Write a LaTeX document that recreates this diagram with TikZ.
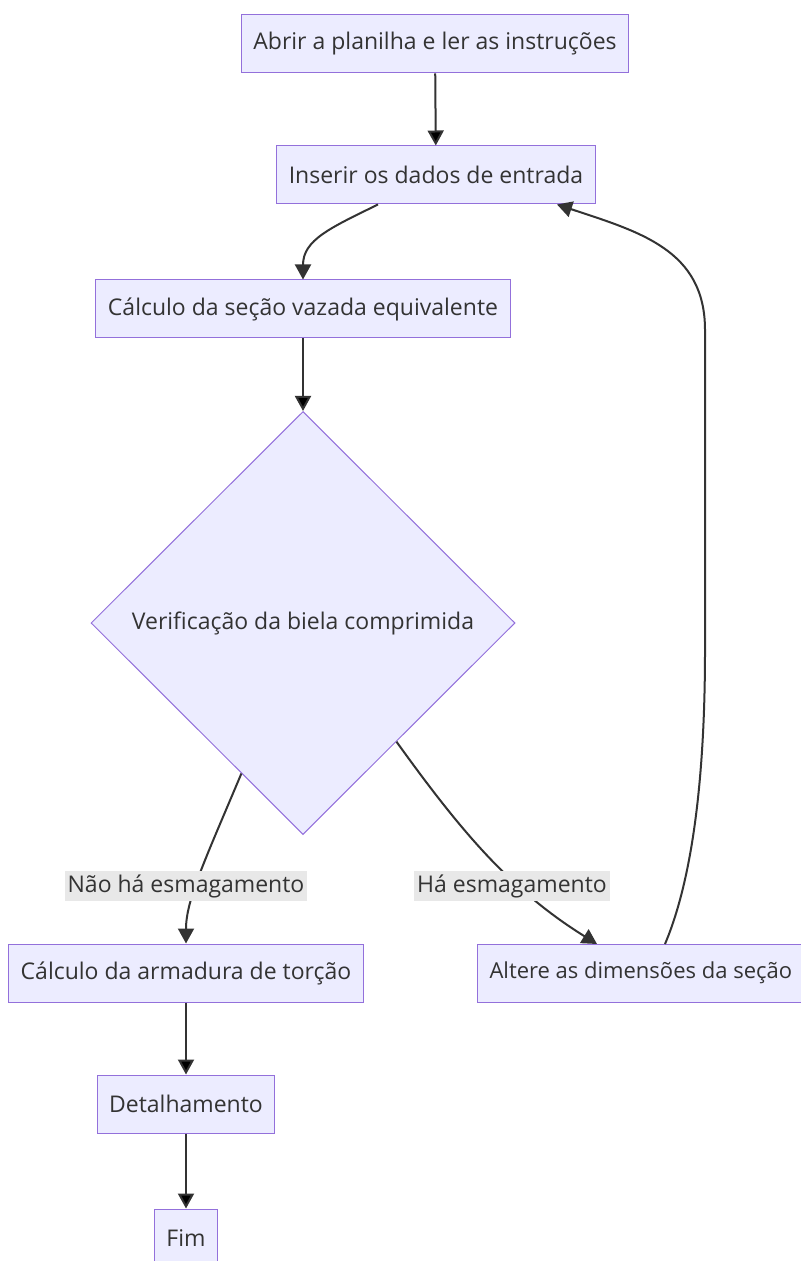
\documentclass[tikz,border=0pt]{standalone}
\usepackage{fontspec}
\setmainfont{Open Sans}
\usetikzlibrary{shapes.geometric,arrows.meta,calc}
\definecolor{boxfill}{HTML}{ECECFF}
\definecolor{boxline}{HTML}{9370DB}
\definecolor{ink}{HTML}{333333}
\definecolor{lblfill}{HTML}{E8E8E8}
\begin{document}
\begin{tikzpicture}[x=0.5pt, y=-0.5pt,
	every node/.style={text=ink, font=\fontsize{11.5}{13}\selectfont},
	n/.style={rectangle, draw=boxline, fill=boxfill, line width=0.5pt, minimum height=29pt, inner xsep=6pt},
	d/.style={diamond, draw=boxline, fill=boxfill, line width=0.5pt, minimum width=212pt, minimum height=211.5pt, inner sep=0pt},
	lbl/.style={fill=lblfill, inner sep=1.5pt},
	e/.style={draw=ink, line width=1pt, -{Triangle[length=7.5pt,width=8pt]}}]
	\useasboundingbox (0,0) rectangle (800,1261);
	\node[n] (a) at (435, 44) {Abrir a planilha e ler as instruções};
	\node[n] (b) at (436, 175) {Inserir os dados de entrada};
	\node[n] (c) at (303, 309) {Cálculo da seção vazada equivalente};
	\node[d] (v) at (303, 623) {Verificação da biela comprimida};
	\node[n] (t) at (186, 973) {Cálculo da armadura de torção};
	\node[n, anchor=west, font=\fontsize{11}{13}\selectfont] (s) at (477, 973) {Altere as dimensões da seção};
	\node[n] (h) at (186, 1104) {Detalhamento};
	\node[n] (f) at (186, 1238) {Fim};

	\coordinate (v1) at ($(v.west)!0.71!(v.south)$);
	\coordinate (v2) at ($(v.east)!0.56!(v.south)$);

	\draw[e] (a) edge (b);
	\draw[e] ([xshift=-29pt]b.south) .. controls (330, 228) and (303, 240) .. (c.north);
	\draw[e] (c) edge (v);
	\draw[e] (v1) .. controls (205, 860) and (186, 900) .. (t.north);
	\draw[e] (v2) .. controls (460, 830) and (510, 890) .. (597, 944);
	\draw[e] (665, 944) .. controls (692, 880) and (705, 780) .. (705, 650)
		-- (705, 330) .. controls (705, 250) and (640, 232) .. ([xshift=60.5pt]b.south);
	\draw[e] (t) edge (h);
	\draw[e] (h) edge (f);

	\node[lbl] (l1) at (186, 886) {Não há esmagamento};
	\node[lbl] (l2) at (512, 886) {Há esmagamento};
\end{tikzpicture}
\end{document}
